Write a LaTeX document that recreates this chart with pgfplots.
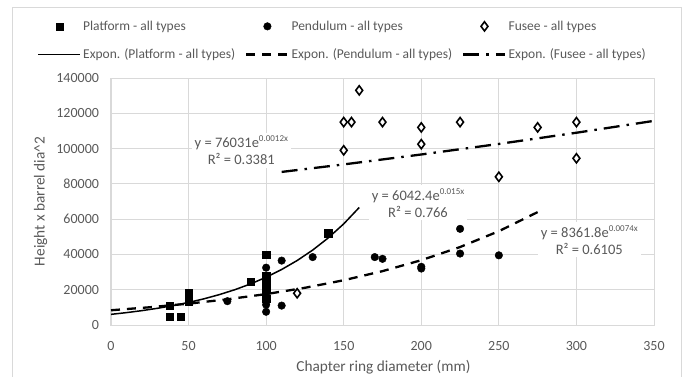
\documentclass[border=0pt]{standalone}
\usepackage{pgfplots}
\pgfplotsset{compat=1.18}
\usepackage{fontspec}
\setmainfont{Carlito}
\definecolor{txt}{RGB}{89,89,89}
\definecolor{grd}{RGB}{217,217,217}
\newcommand{\sups}[1]{\raisebox{0.42em}{\fontsize{9}{9}\selectfont #1}}
\pgfplotsset{myleg/.style={legend image code/.code={\draw[mark repeat=2,mark phase=2,##1] plot coordinates {(0pt,0pt) (21pt,0pt) (42pt,0pt)};}}}
\begin{document}
\begin{tikzpicture}[font=\fontsize{13}{15}\selectfont]
\useasboundingbox (-111pt,-51pt) rectangle (579pt,325pt);
\draw[grd, line width=1pt] (-98pt,-52pt) rectangle (570.5pt,318pt);
\begin{axis}[
 at={(0pt,0pt)}, anchor=south west,
 scale only axis, width=543pt, height=247pt,
 xmin=0, xmax=350, ymin=0, ymax=140000,
 xtick={0,50,...,350}, ytick={0,20000,...,140000},
 scaled y ticks=false,
 /pgf/number format/assume math mode=true,
 yticklabel style={/pgf/number format/fixed, /pgf/number format/1000 sep={}, xshift=-8.5pt},
 xticklabel style={yshift=-13pt},
 grid=major, major grid style={grd, line width=0.8pt},
 major tick length=0pt,
 axis line style={grd, line width=1pt},
 tick label style={text=txt, font=\fontsize{14}{16}\selectfont},
 label style={text=txt, font=\fontsize{15.3}{18}\selectfont},
 xlabel={Chapter ring diameter (mm)},
 ylabel={Height x barrel dia\textasciicircum 2},
 ylabel style={at={(axis description cs:-0.1297,0.5)}, anchor=center},
 xlabel style={at={(axis description cs:0.5017,-0.169)}, anchor=center},
 legend columns=3,
 legend cell align=left,
 legend style={draw=none, fill=none, at={(axis description cs:-0.1354,1.24)}, anchor=north west,
   inner sep=0pt, text=txt, row sep=13pt, font=\fontsize{13.5}{15}\selectfont,
   /tikz/every even column/.append style={column sep=8pt}},
]
% Platform
\addplot[myleg, only marks, mark=square*, mark size=3.6pt, black] coordinates {
(38,4500) (45,4500) (38,11000) (50,18000) (50,16000) (50,13500) (90,24500)
(100,40000) (100,28000) (100,25500) (100,23000) (100,20000) (100,15000) (140,52000)};
\addlegendentry{Platform - all types}
% Pendulum
\addplot[myleg, only marks, mark=*, mark size=3.8pt, black] coordinates {
(75,13500) (100,32500) (100,26500) (100,18500) (100,17000) (100,14000) (100,11500) (100,7500)
(110,36500) (110,11000) (130,38500) (170,38500) (175,37500) (200,33000) (200,32000)
(225,54500) (225,40500) (250,39500)};
\addlegendentry{Pendulum - all types}
% Fusee
\addplot[myleg, only marks, mark=diamond*, mark size=4.6pt, black, line width=1.6pt, mark options={fill=white}] coordinates {
(120,18000) (150,99000) (150,115000) (155,115000) (160,133000) (175,115000) (200,112000)
(200,102500) (225,115000) (250,84000) (275,112000) (300,115000) (300,94500)};
\addlegendentry{Fusee - all types}
% Expon fits
\addplot[myleg, black, line width=1.5pt, no marks] coordinates {
(0,6042) (10,7020) (20,8156) (30,9476) (40,11010) (50,12792) (60,14862) (70,17267) (80,20062)
(90,23308) (100,27080) (110,31463) (120,36554) (130,42471) (140,49343) (150,57328) (160,66607)};
\addlegendentry{Expon. (Platform - all types)}
\addplot[myleg, black, line width=2.3pt, no marks, dash pattern=on 9pt off 7pt] coordinates {
(0,8362) (25,10061) (50,12106) (75,14566) (100,17526) (125,21087) (150,25373) (175,30529)
(200,36733) (225,44197) (250,53179) (275,63986)};
\addlegendentry{Expon. (Pendulum - all types)}
\addplot[myleg, black, line width=2.3pt, no marks, dash pattern=on 16pt off 7pt on 2.5pt off 7pt] coordinates {
(110,86760) (150,91026) (200,96654) (250,102631) (300,108978) (350,115716)};
\addlegendentry{Expon. (Fusee - all types)}
\node[fill=white, align=center, text=txt, inner sep=3pt, font=\fontsize{14.5}{17}\selectfont] at (axis cs:84,99100)
 {y = 76031e\sups{0.0012x}\\R² = 0.3381};
\node[fill=white, align=center, text=txt, inner sep=3pt, font=\fontsize{14.5}{17}\selectfont] at (axis cs:197.9,69260)
 {y = 6042.4e\sups{0.015x}\\R² = 0.766};
\node[fill=white, align=center, text=txt, inner sep=3pt, font=\fontsize{14.5}{17}\selectfont] at (axis cs:308.3,48350)
 {y = 8361.8e\sups{0.0074x}\\R² = 0.6105};
\end{axis}
\end{tikzpicture}
\end{document}
